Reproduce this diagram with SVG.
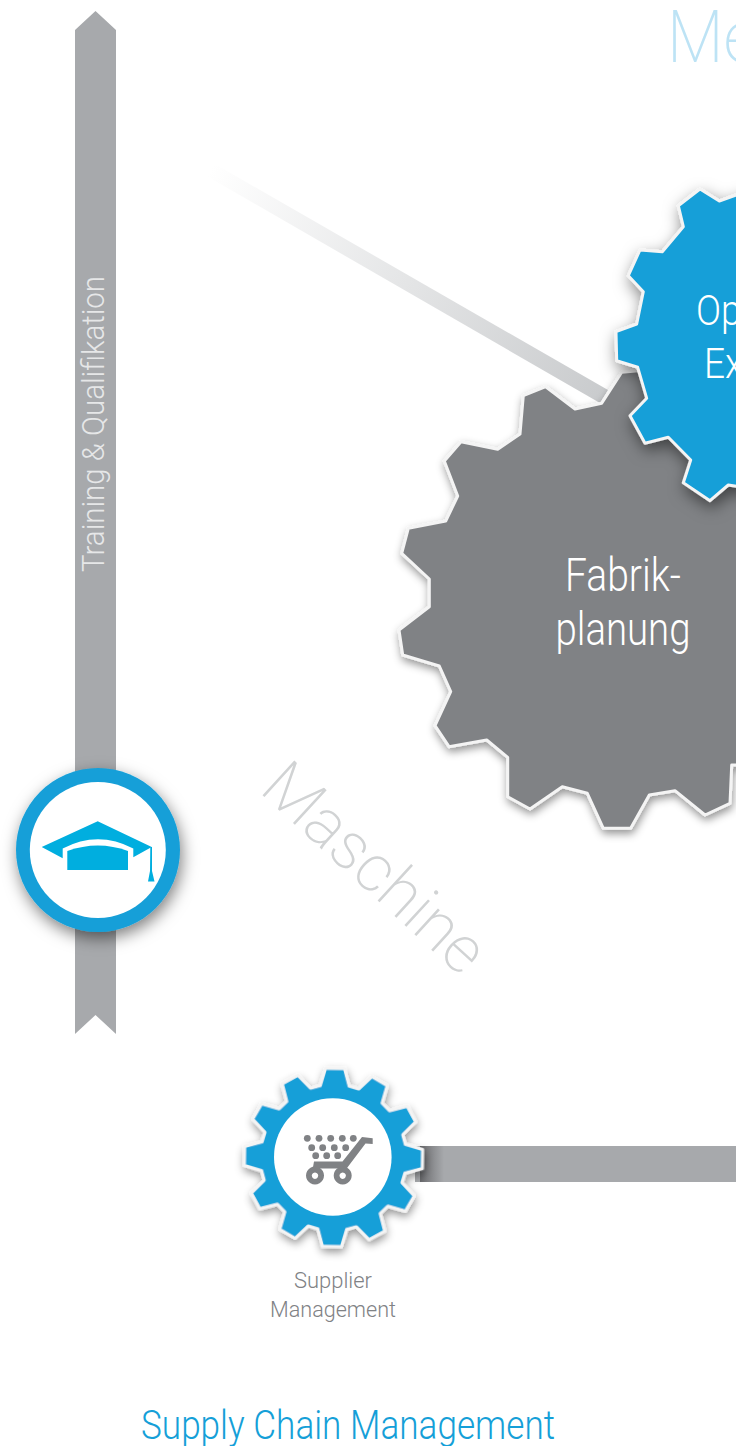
<svg xmlns="http://www.w3.org/2000/svg" width="736" height="1446" viewBox="0 0 736 1446">
<style>
text{font-family:Roboto,"Liberation Sans",sans-serif;font-weight:300}
.bar{fill:#a7a9ac}
.gear{stroke:#f4f4f4;stroke-width:3;stroke-linejoin:round}
.blue{fill:#159fd8}
.cap{fill:#00aedf}
.dot{fill:#808285}
</style>
<defs>
<filter id="sh" x="-25%" y="-25%" width="150%" height="150%"><feDropShadow dx="2" dy="6" stdDeviation="8" flood-color="#000" flood-opacity=".5"/></filter>
<filter id="shs" x="-25%" y="-25%" width="150%" height="150%"><feDropShadow dx="1" dy="4" stdDeviation="4" flood-color="#000" flood-opacity=".42"/></filter>
<linearGradient id="beam" gradientUnits="userSpaceOnUse" x1="210" y1="171" x2="603" y2="396"><stop offset="0" stop-color="#fff"/><stop offset="1" stop-color="#c9cbcd"/></linearGradient>
<linearGradient id="barsh" x1="0" x2="1" y1="0" y2="0"><stop offset="0" stop-color="#66676a"/><stop offset=".3" stop-color="#7d7e81"/><stop offset="1" stop-color="#a7a9ac"/></linearGradient>
</defs>
<g id="connectors">
<path class="bar" d="M75 30L95.500 11L116 30V1034L95.500 1015L75 1034Z"/>
<path d="M205 175L213 163L608 390L600 403Z" fill="url(#beam)"/>
<rect class="bar" x="415" y="1146" width="321" height="36"/>
<rect x="420" y="1146" width="24" height="36" fill="url(#barsh)"/>
</g>
<g id="training-label"><text transform="translate(104 572) rotate(-90)" font-size="31" fill="#e6e7e8" textLength="296" lengthAdjust="spacingAndGlyphs">Training &amp; Qualifikation</text></g>
<g id="me-label"><text transform="translate(667 62) scale(.9 1)" font-size="73" fill="#bde3f5" style="font-weight:200">Me</text></g>
<g id="maschine-label"><text transform="translate(258 791) rotate(42.500)" font-size="66" fill="#d1d3d4" textLength="276" lengthAdjust="spacingAndGlyphs" style="font-weight:200">Maschine</text></g>
<g id="fabrikplanung">
<path class="gear" filter="url(#shs)" fill="#808285" d="M601.700 403.300L621.700 372.300L760 360V765H731.700L730 803.300L705 815L675 790.700L649.300 795L630.700 828.300H603.300L587.300 793.300L562.300 786.700L530 809L507.700 796.700V757.300L486.700 740L449 746.700L435 725.700L450.700 691.700L439.300 666L402.700 655L399 630L429.300 606.700V579L401.700 553.300L408.300 528.300L445.700 521L457.700 496L444.300 461L461 441.700L497.700 449.300L520 434L523.300 395.700L545.700 386.700L575 409Z"/>
<text x="623" y="591" font-size="46" fill="#fff" text-anchor="middle" textLength="116" lengthAdjust="spacingAndGlyphs">Fabrik-</text>
<text x="623" y="645" font-size="46" fill="#fff" text-anchor="middle" textLength="135" lengthAdjust="spacingAndGlyphs">planung</text>
</g>
<g id="operational-excellence">
<path class="gear blue" filter="url(#sh)" d="M760 190L736 195L719.300 201L700 189L678.300 205.700L683.300 226.700L662.300 251.700L640 250L628.300 275.700L643.300 291.700L636.700 324L616 331.700L616.700 360.700L637.700 367.300L646.700 398.300L630 415.700L645 443.300L668.300 437.300L690.700 460L683.300 482.700L710 500.700L728.300 485L760 490Z"/>
<text transform="translate(696 325) scale(.88 1)" font-size="42" fill="#fff">Op</text>
<text transform="translate(704 378) scale(.88 1)" font-size="42" fill="#fff">Ex</text>
</g>
<g id="training-icon">
<circle cx="98" cy="850" r="82" class="blue" filter="url(#sh)"/>
<circle cx="97.800" cy="850" r="68" fill="#fff"/>
<path class="cap" d="M41.700 847L97.700 821.300L151.700 847L133.300 857.300V848.500Q98 830 62.700 848.500V858.300Z"/>
<path class="cap" d="M67.300 851Q98 840 128 851V870H67.300Z"/>
<path class="cap" d="M150.300 847H152V871L154.500 881.500H148L150 871Z"/>
</g>
<g id="supplier-management">
<path class="gear blue" filter="url(#shs)" transform="translate(333.500 1157.500) rotate(1)" d="M-14.500-71.700L-9.500-89L9.500-89L14.500-71.700L24-68.900L37-81.500L52.500-72.800L47.700-55.200L55.200-47.700L72.800-52.500L81.500-37L68.900-24L71.700-14.500L89-9.500L89 9.500L71.700 14.500L68.900 24L81.500 37L72.800 52.500L55.200 47.700L47.700 55.200L52.500 72.800L37 81.500L24 68.900L14.500 71.700L9.500 89L-9.500 89L-14.500 71.700L-24 68.900L-37 81.500L-52.500 72.800L-47.700 55.200L-55.200 47.700L-72.800 52.500L-81.500 37L-68.900 24L-71.700 14.500L-89 9.500L-89-9.500L-71.700-14.500L-68.900-24L-81.500-37L-72.800-52.500L-55.200-47.700L-47.700-55.200L-52.500-72.800L-37-81.500L-24-68.900Z"/>
<circle cx="332.800" cy="1157" r="58.800" fill="#fff"/>
<g class="dot">
<circle cx="307.300" cy="1138.300" r="3.400"/><circle cx="319" cy="1138.300" r="3.400"/><circle cx="330.700" cy="1138.300" r="3.400"/><circle cx="342.300" cy="1138.300" r="3.400"/><circle cx="353.300" cy="1138.300" r="3.400"/>
<circle cx="311.700" cy="1147.700" r="3.400"/><circle cx="322.700" cy="1147.700" r="3.400"/><circle cx="334.300" cy="1147.700" r="3.400"/><circle cx="345.700" cy="1147.700" r="3.400"/>
<circle cx="315.700" cy="1155.700" r="3.400"/><circle cx="326.700" cy="1155.700" r="3.400"/><circle cx="337.700" cy="1155.700" r="3.400"/>
<path d="M372.700 1138.300V1144L365.500 1143.500L347 1168L344 1170H341L339 1168.500H320L316 1170H312.500L314 1161.500H342.500L362 1137Z"/>
<path fill-rule="evenodd" d="M315 1166.500a9 9 0 1 0 .01 0ZM315 1172.500a3.200 3.200 0 1 1-.01 0ZM342.700 1166.500a9 9 0 1 0 .01 0ZM342.700 1172.500a3.200 3.200 0 1 1-.01 0Z"/>
</g>
<text x="333" y="1288" font-size="22" fill="#808285" text-anchor="middle" textLength="78" lengthAdjust="spacingAndGlyphs">Supplier</text>
<text x="333" y="1317" font-size="22" fill="#808285" text-anchor="middle" textLength="126" lengthAdjust="spacingAndGlyphs">Management</text>
</g>
<g id="supply-chain-label"><text x="141" y="1439" font-size="40" fill="#159fd8" textLength="414" lengthAdjust="spacingAndGlyphs">Supply Chain Management</text></g>
</svg>
